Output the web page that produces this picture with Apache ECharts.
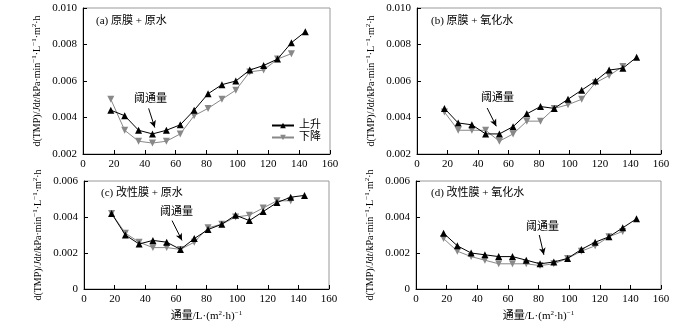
<!DOCTYPE html>
<html><head><meta charset="utf-8">
<script src="https://cdn.jsdelivr.net/npm/echarts@6/dist/echarts.min.js"></script>
<style>html,body{margin:0;padding:0;background:#fff}#c{width:700px;height:325px}</style>
</head><body><div id="c"></div>
<script>
const flux = [18,27,36,45,54,63,72,81,90,99,108,117,126,135,144];
const upA   = [0.0044,0.0041,0.0033,0.0031,0.0033,0.0036,0.0044,0.0053,0.0058,0.0060,0.0066,0.00685,0.0072,0.0081,0.0087];
const downA = [0.0050,0.0033,0.0027,0.0026,0.0027,0.0031,0.0041,0.0045,0.0050,0.0055,0.0065,0.0066,0.0072,0.0075];
const upB   = [0.0045,0.0037,0.0036,0.0031,0.0031,0.0035,0.0042,0.0046,0.0045,0.0050,0.0055,0.0060,0.0066,0.0067,0.0073];
const downB = [0.0043,0.0033,0.0033,0.0033,0.0027,0.0031,0.0038,0.0038,0.0045,0.0047,0.0050,0.0059,0.0063,0.0068];
const upC   = [0.0042,0.0030,0.0025,0.0027,0.0026,0.0022,0.0028,0.0033,0.0036,0.0041,0.0038,0.0043,0.0048,0.0051,0.0052];
const downC = [0.0042,0.0031,0.0026,0.0023,0.0023,0.0022,0.0026,0.0034,0.0036,0.0040,0.0041,0.0045,0.0049,0.0049];
const upD   = [0.0031,0.0024,0.0020,0.0019,0.0018,0.0018,0.0016,0.0014,0.0015,0.0017,0.0022,0.0026,0.0029,0.0034,0.0039];
const downD = [0.0028,0.0021,0.0018,0.0016,0.0014,0.0014,0.0014,0.0013,0.0014,0.0017,0.0021,0.0024,0.0029,0.0032];
const panelTitles = ['(a) 原膜 + 原水','(b) 原膜 + 氧化水','(c) 改性膜 + 原水','(d) 改性膜 + 氧化水'];
const seriesNames = ['上升','下降'];
const annText = '阈通量';
// arrow annotations [x1,y1,x2,y2] in data units
const arrows = [[42.5,0.00450,46.5,0.00345],[46,0.00452,52,0.00352],[57.5,0.00380,64,0.00270],[80.5,0.00300,83.5,0.00190]];
const xTicks = {min:0,max:160,interval:20};
const yRanges = [{min:0.002,max:0.010,interval:0.002},{min:0.002,max:0.010,interval:0.002},{min:0,max:0.006,interval:0.002},{min:0,max:0.006,interval:0.002}];

const SERIF = '"Liberation Serif","Times New Roman","Noto Sans CJK SC",serif';
const grids = [
  {left:83, top:8, width:247, height:146},
  {left:417, top:8, width:244, height:146},
  {left:84, top:181, width:245, height:108},
  {left:416, top:181, width:245, height:108}
];
const ups = [upA,upB,upC,upD], downs=[downA,downB,downC,downD];
const pair = arr => arr.map((v,i)=>[flux[i],v]);

const yName = '{n|d(TMP)/}{i|J}{n|d}{i|t}{n|/kPa·min}{s|−1}{n|·L}{s|−1}{n|·m}{s|2}{n|·h}';
const yRich = {
  n:{fontFamily:SERIF,fontSize:10,color:'#000'},
  i:{fontFamily:SERIF,fontSize:10,color:'#000',fontStyle:'italic'},
  s:{fontFamily:SERIF,fontSize:7,color:'#000',verticalAlign:'top',lineHeight:12}
};
const xName = '{n|通量/L·(m}{s|2}{n|·h)}{s|−1}';
const xRich = {
  n:{fontFamily:SERIF,fontSize:11,color:'#000'},
  s:{fontFamily:SERIF,fontSize:7,color:'#000',verticalAlign:'top',lineHeight:12}
};

const option = {
  animation:false,
  backgroundColor:'#fff',
  grid: grids.map(g=>Object.assign({show:true,borderColor:'#999',borderWidth:1,backgroundColor:'transparent'},g)),
  xAxis: grids.map((g,i)=>({
    type:'value', gridIndex:i, min:xTicks.min, max:xTicks.max, interval:xTicks.interval,
    splitLine:{show:false},
    axisLine:{onZero:false,lineStyle:{color:'#000',width:1}},
    axisTick:{inside:true,length:4,lineStyle:{color:'#000'}},
    axisLabel:{fontFamily:SERIF,fontSize:11,color:'#000',margin:5},
    name: i>=2 ? xName : '', nameLocation:'middle', nameGap:21,
    nameTextStyle:{rich:xRich}
  })),
  yAxis: grids.map((g,i)=>({
    type:'value', gridIndex:i, min:yRanges[i].min, max:yRanges[i].max, interval:yRanges[i].interval,
    splitLine:{show:false},
    axisLine:{onZero:false,lineStyle:{color:'#000',width:1}},
    axisTick:{inside:true,length:4,lineStyle:{color:'#000'}},
    axisLabel:{fontFamily:SERIF,fontSize:11,color:'#000',margin:6,
      formatter:v=> Math.abs(v)<1e-12 ? '0' : v.toFixed(3)},
    name: yName, nameLocation:'middle', nameGap:40,
    nameTextStyle:{rich:yRich}
  })),
  legend:{
    data:seriesNames, orient:'vertical', left:266, top:115, itemWidth:22, itemHeight:7, itemGap:1,
    textStyle:{fontFamily:SERIF,fontSize:11,color:'#000'}
  },
  graphic: [
    {type:'text',left:96,top:16,style:{text:panelTitles[0],font:'11px '+SERIF,fill:'#000'}},
    {type:'text',left:431,top:16,style:{text:panelTitles[1],font:'11px '+SERIF,fill:'#000'}},
    {type:'text',left:101,top:188,style:{text:panelTitles[2],font:'11px '+SERIF,fill:'#000'}},
    {type:'text',left:431,top:188,style:{text:panelTitles[3],font:'11px '+SERIF,fill:'#000'}},
    {type:'text',left:134,top:94,style:{text:annText,font:'11px '+SERIF,fill:'#000'}},
    {type:'text',left:481,top:93,style:{text:annText,font:'11px '+SERIF,fill:'#000'}},
    {type:'text',left:160,top:207,style:{text:annText,font:'11px '+SERIF,fill:'#000'}},
    {type:'text',left:526,top:222,style:{text:annText,font:'11px '+SERIF,fill:'#000'}}
  ],
  series: []
};
for (let i=0;i<4;i++){
  const a = arrows[i];
  option.series.push({
    name:seriesNames[0], type:'line', xAxisIndex:i, yAxisIndex:i, data:pair(ups[i]),
    symbol:'triangle', symbolSize:7, showAllSymbol:true,
    lineStyle:{color:'#000',width:1}, itemStyle:{color:'#000'}, z:3,
    markLine:{silent:true, symbol:['none','arrow'], symbolSize:[5,7], label:{show:false},
      lineStyle:{color:'#000',width:1,type:'solid'},
      data:[[{coord:[a[0],a[1]]},{coord:[a[2],a[3]]}]]}
  });
  option.series.push({
    name:seriesNames[1], type:'line', xAxisIndex:i, yAxisIndex:i, data:pair(downs[i]),
    symbol:'triangle', symbolRotate:180, symbolSize:7, showAllSymbol:true,
    lineStyle:{color:'#888',width:1}, itemStyle:{color:'#888'}, z:2
  });
}
const chart = echarts.init(document.getElementById('c'),null,{renderer:'canvas'});
chart.setOption(option);
</script></body></html>
